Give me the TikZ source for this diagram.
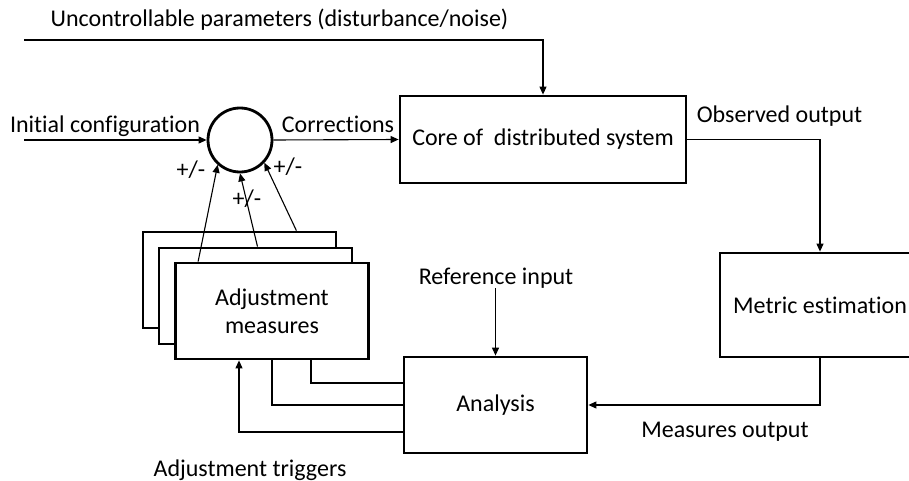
\documentclass[tikz,border=0pt]{standalone}
\usepackage{fontspec}
\setmainfont{Carlito}[Ligatures=NoCommon]
\usetikzlibrary{arrows.meta,calc}

\begin{document}
\begin{tikzpicture}[x=1pt, y=-1pt, >={Triangle[length=8pt,width=7pt]},
  font=\fontsize{24}{28}\selectfont,
  block/.style={draw, line width=2.8pt, fill=white, inner sep=0pt},
  adjbox/.style={block, minimum width=193, minimum height=96, align=center},
  wire/.style={line width=1.1pt},
  lbl/.style={anchor=base, inner sep=0pt}]
  \useasboundingbox (0,0) rectangle (909,481);
  % main blocks
  \node[block, minimum width=286, minimum height=87] (core) at (543,139.5) {Core of\ \ distributed system};
  \node[block, minimum width=200, minimum height=104] (metric) at (820,305) {Metric estimation};
  \node[block, minimum width=183, minimum height=96] (analysis) at (495.5,405) {Analysis};
  % summing junction
  \node[draw, circle, line width=2.8pt, minimum size=64, inner sep=0pt] (sum) at (240,140) {};
  % stacked adjustment boxes, back to front
  \node[adjbox] (back) at (239.5,280) {};
  \node[adjbox] (middle) at (255.5,296) {};
  \node[adjbox] (front) at (272,311) {Adjustment\\measures};
  % free ends
  \coordinate (unc) at (24,40);
  \coordinate (init) at (24,140);
  % texts
  \node[lbl] (unctext) at (279.5,27) {Uncontrollable parameters (disturbance/noise)};
  \node[lbl] (inittext) at (105,133) {Initial configuration};
  \node[lbl] (corrtext) at (338,133) {Corrections};
  \node[lbl] (obstext) at (779.5,123) {Observed output};
  \node[lbl] (refin) at (496,284) {Reference input};
  \node[lbl] (meastext) at (725,437) {Measures output};
  \node[lbl] (trigtext) at (250,476) {Adjustment triggers};
  \node[lbl] (pm1) at (191,178) {+/-};
  \node[lbl] (pm2) at (247,206) {+/-};
  \node[lbl] (pm3) at (288,175) {+/-};
  % forward path
  \draw[wire,->] (unc) -| (core.north);
  \draw[wire,->] (init) -- (sum.west);
  \draw[wire,->] (sum.east) -- (core.west);
  \draw[wire,->] (core.east) -| (metric.north);
  \draw[wire,->] (metric.south) |- (analysis.east);
  \draw[wire,->] (analysis.north |- refin.south) -- (analysis.north);
  % analysis back to the adjustment boxes
  \draw[wire] ($(front.south)+(39,0)$) |- ($(analysis.west)+(0,-22)$);
  \draw[wire] (front.south) |- (analysis.west);
  \draw[wire,->] ($(analysis.west)+(0,27)$) -| ($(front.south)+(-33,0)$);
  % corrections into the junction
  \draw[wire,->] ($(front.north west)+(24,0)$) -- (sum.228);
  \draw[wire,->] ($(middle.north)+(2,0)$) -- (sum.south);
  \draw[wire,->] ($(back.north east)+(-41,0)$) -- (sum.317);
\end{tikzpicture}
\end{document}
